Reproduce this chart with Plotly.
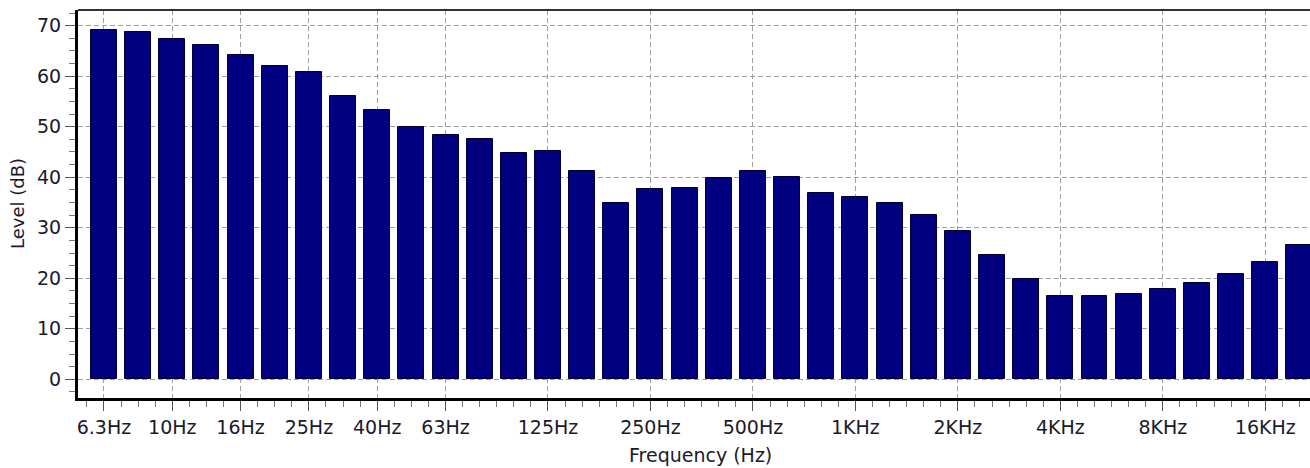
import plotly.graph_objects as go

# 1/3-octave band centre frequencies (categories)
bands = ["6.3Hz", "8Hz", "10Hz", "12.5Hz", "16Hz", "20Hz", "25Hz", "31.5Hz", "40Hz", "50Hz",
         "63Hz", "80Hz", "100Hz", "125Hz", "160Hz", "200Hz", "250Hz", "315Hz", "400Hz", "500Hz",
         "630Hz", "800Hz", "1KHz", "1.25KHz", "1.6KHz", "2KHz", "2.5KHz", "3.15KHz", "4KHz", "5KHz",
         "6.3KHz", "8KHz", "10KHz", "12.5KHz", "16KHz", "20KHz"]
levels = [69.2, 68.8, 67.3, 66.1, 64.1, 62.1, 60.9, 56.1, 53.4, 49.9,
          48.4, 47.5, 44.7, 45.1, 41.2, 34.8, 37.6, 37.9, 39.9, 41.2,
          40.0, 36.8, 36.1, 34.8, 32.5, 29.3, 24.6, 19.8, 16.5, 16.5,
          16.9, 17.8, 19.0, 20.9, 23.2, 26.5]
tick_labels = ["6.3Hz", "10Hz", "16Hz", "25Hz", "40Hz", "63Hz", "125Hz", "250Hz",
               "500Hz", "1KHz", "2KHz", "4KHz", "8KHz", "16KHz"]

idx = list(range(len(bands)))
tick_idx = [bands.index(t) for t in tick_labels]
minor_vals = [i / 2 for i in range(-1, 2 * len(bands) + 1)]

font = "DejaVu Sans"
txt = "#1a1a2a"
W, H = 1310, 468
ML, MT, MB = 78, 10, 70

fig = go.Figure(go.Bar(
    x=idx, y=levels, width=0.76,
    marker=dict(color="#000080", line=dict(color="#000033", width=1)),
    hovertext=bands,
))

fig.update_layout(
    width=W, height=H,
    margin=dict(l=ML, r=0, t=MT, b=MB),
    paper_bgcolor="white", plot_bgcolor="white",
    showlegend=False,
    font=dict(family=font, size=19, color=txt),
    bargap=0,
)

fig.update_xaxes(
    range=[-0.76, 35.31],
    automargin=False,
    tickmode="array", tickvals=tick_idx, ticktext=tick_labels,
    ticks="outside", ticklen=10, tickwidth=1, tickcolor="#555",
    showline=True, linecolor="black", linewidth=3,
    showgrid=True, gridcolor="#a0a0a0", griddash="5px,3px", gridwidth=1,
    zeroline=False,
    tickfont=dict(family=font, size=19, color=txt),
    minor=dict(tickmode="array", tickvals=minor_vals, ticks="outside", ticklen=6,
               tickcolor="#777", showgrid=False),
)

fig.update_yaxes(
    range=[-3.7, 73.1],
    automargin=False,
    tickmode="linear", tick0=0, dtick=10,
    ticks="outside", ticklen=10, tickwidth=1, tickcolor="#555",
    showline=True, linecolor="black", linewidth=3,
    showgrid=True, gridcolor="#a0a0a0", griddash="5px,3px", gridwidth=1,
    zeroline=False,
    tickfont=dict(family=font, size=19, color=txt),
    minor=dict(dtick=2.5, ticks="outside", ticklen=6, tickcolor="#777", showgrid=False),
)

# axis titles placed as annotations
fig.add_annotation(text="Frequency (Hz)", xref="paper", yref="paper",
                   x=(700 - ML) / (W - ML), y=0, yshift=-57, showarrow=False,
                   xanchor="center", yanchor="middle",
                   font=dict(family=font, size=19, color=txt))
fig.add_annotation(text="Level (dB)", xref="paper", yref="paper",
                   x=0, xshift=-61, y=0.5, textangle=-90, showarrow=False,
                   xanchor="center", yanchor="middle",
                   font=dict(family=font, size=18, color=txt))

# top border of the plot frame
fig.add_shape(type="line", xref="paper", yref="paper", x0=0, x1=1, y0=1, y1=1,
              line=dict(color="#333", width=2))

fig.write_html("out.html",
               config={"displayModeBar": False},
               post_script="document.body.style.margin='0';document.body.style.overflow='hidden';")
